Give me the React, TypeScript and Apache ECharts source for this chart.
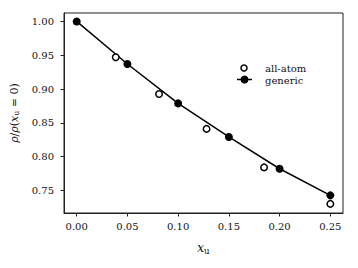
import React, { useEffect, useRef } from "react";
import * as echarts from "echarts";

const allAtomX = [0.0385, 0.0812, 0.128, 0.1847, 0.25];
const allAtomY = [0.947, 0.8926, 0.841, 0.784, 0.73];
const genericX = [0.0, 0.05, 0.1, 0.15, 0.2, 0.25];
const genericY = [1.0, 0.937, 0.8787, 0.829, 0.782, 0.7426];
const xTicks = [0.0, 0.05, 0.1, 0.15, 0.2, 0.25];
const yTicks = [0.75, 0.8, 0.85, 0.9, 0.95, 1.0];
const legendNames = ["all-atom", "generic"];

const FONT = "DejaVu Serif";
const INK = "#111";

export default function App() {
  const ref = useRef<HTMLDivElement>(null);
  useEffect(() => {
    const chart = echarts.init(ref.current!, undefined, { renderer: "svg" });
    const rich = (fs: number) => ({
      i: { fontFamily: FONT, fontStyle: "italic", fontSize: fs, color: INK },
      r: { fontFamily: FONT, fontSize: fs, color: INK },
      s: { fontFamily: FONT, fontSize: fs * 0.72, color: INK, verticalAlign: "bottom", padding: [fs * 0.5, 0, 0, 0] },
    });
    chart.setOption({
      animation: false,
      textStyle: { fontFamily: FONT },
      grid: {
        left: 64,
        top: 13,
        right: 15,
        bottom: 55,
        show: true,
        borderColor: "#222",
        borderWidth: 1,
        backgroundColor: "transparent",
      },
      graphic: [
        {
          type: "circle",
          shape: { cx: 244, cy: 68, r: 3 },
          style: { fill: "#fff", stroke: "#000", lineWidth: 1.5 },
          z: 10,
        },
        {
          type: "line",
          shape: { x1: 237, y1: 79.5, x2: 252, y2: 79.5 },
          style: { stroke: "#000", lineWidth: 1.5 },
          z: 10,
        },
        {
          type: "circle",
          shape: { cx: 244.5, cy: 79.5, r: 4 },
          style: { fill: "#000" },
          z: 10,
        },
        {
          type: "text",
          x: 265,
          y: 68,
          style: { text: legendNames[0], fontFamily: FONT, fontSize: 10, fill: INK, verticalAlign: "middle" },
          z: 10,
        },
        {
          type: "text",
          x: 265,
          y: 80,
          style: { text: legendNames[1], fontFamily: FONT, fontSize: 10, fill: INK, verticalAlign: "middle" },
          z: 10,
        },
      ],
      xAxis: {
        type: "value",
        min: -0.0125,
        max: 0.2625,
        name: "{i|x}{s|u}",
        nameLocation: "middle",
        nameGap: 27,
        nameTextStyle: { rich: rich(12) },
        splitLine: { show: false },
        axisLine: { show: true, onZero: false, lineStyle: { color: "#222", width: 1 } },
        axisTick: { show: true, length: 3.5, customValues: xTicks, lineStyle: { color: "#222", width: 1 } },
        axisLabel: {
          customValues: xTicks,
          formatter: (v: number) => v.toFixed(2),
          fontFamily: FONT,
          fontSize: 10,
          color: INK,
          margin: 8,
        },
      },
      yAxis: {
        type: "value",
        min: 0.7165,
        max: 1.0125,
        name: "{i|ρ}{r|/}{i|ρ}{r|(}{i|x}{s|u}{r| = 0)}",
        nameLocation: "middle",
        nameRotate: 90,
        nameGap: 38,
        nameTextStyle: { rich: rich(11) },
        splitLine: { show: false },
        axisLine: { show: true, onZero: false, lineStyle: { color: "#222", width: 1 } },
        axisTick: { show: true, length: 3.5, customValues: yTicks, lineStyle: { color: "#222", width: 1 } },
        axisLabel: {
          customValues: yTicks,
          formatter: (v: number) => v.toFixed(2),
          fontFamily: FONT,
          fontSize: 10,
          color: INK,
          margin: 10,
        },
      },
      series: [
        {
          name: "generic",
          type: "line",
          data: genericX.map((x, i) => [x, genericY[i]]),
          symbol: "circle",
          symbolSize: 8,
          lineStyle: { color: "#000", width: 1.5 },
          itemStyle: { color: "#000" },
          z: 2,
        },
        {
          name: "all-atom",
          type: "scatter",
          data: allAtomX.map((x, i) => [x, allAtomY[i]]),
          symbol: "circle",
          symbolSize: 6.5,
          itemStyle: { color: "#fff", borderColor: "#000", borderWidth: 1.5, opacity: 1 },
          z: 3,
        },
      ],
    });
    return () => chart.dispose();
  }, []);
  return <div ref={ref} style={{ width: 358, height: 268, position: "absolute", left: 0, top: 0 }} />;
}
